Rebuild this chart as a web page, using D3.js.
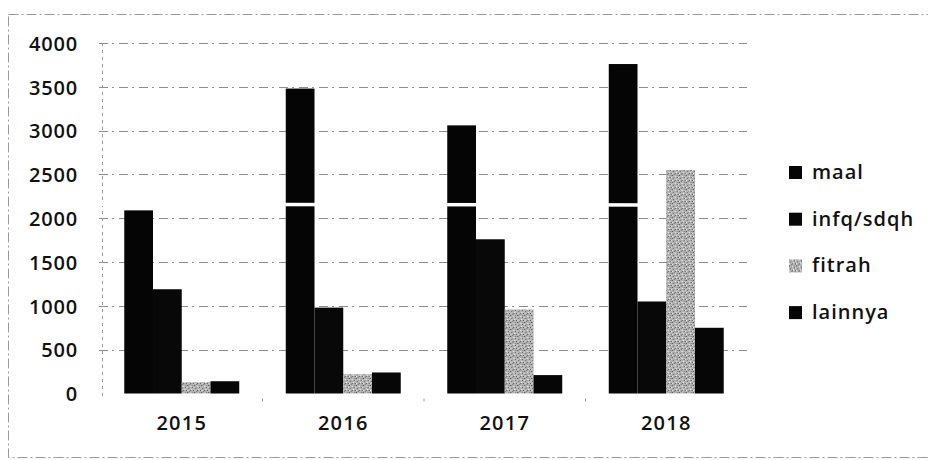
<!DOCTYPE html>
<html>
<head>
<meta charset="utf-8">
<script src="https://cdn.jsdelivr.net/npm/d3@7/dist/d3.min.js"></script>
<style>
  html, body { margin: 0; padding: 0; background: #fff; }
  svg { display: block; }
  text { font-family: "Open Sans", "DejaVu Sans", sans-serif; fill: #111; }
</style>
</head>
<body>
<svg id="chart" width="928" height="460"></svg>
<script>
// Yearly collection totals per category
const years = ["2015", "2016", "2017", "2018"];
const seriesNames = ["maal", "infq/sdqh", "fitrah", "lainnya"];
const maal    = [2090, 3480, 3060, 3760];
const infq    = [1190,  980, 1760, 1050];
const fitrah  = [ 130,  220,  960, 2550];
const lainnya = [ 140,  240,  210,  750];
const yTicks  = [0, 500, 1000, 1500, 2000, 2500, 3000, 3500, 4000];

const seriesValues = [maal, infq, fitrah, lainnya];
const rows = years.map((yr, i) => ({
  year: yr,
  values: seriesNames.map((s, j) => ({ key: s, value: seriesValues[j][i] }))
}));

const svg = d3.select("#chart");
const plot = { left: 101, right: 747, top: 43, bottom: 393.5 };

// Speckled grey texture for the fitrah series
const defs = svg.append("defs");
const pat = defs.append("pattern")
  .attr("id", "speckle").attr("patternUnits", "userSpaceOnUse")
  .attr("width", 7).attr("height", 7);
pat.append("rect").attr("width", 7).attr("height", 7).attr("fill", "#b4b4b4");
const specks = [[0,0,"#444"],[3,1,"#eee"],[5,2,"#555"],[1,3,"#666"],[4,4,"#f2f2f2"],[6,5,"#444"],[2,6,"#777"],[0,5,"#f4f4f4"],[5,0,"#888"],[3,5,"#5a5a5a"],[6,2,"#e6e6e6"],[2,2,"#999"]];
specks.forEach(([x, y, c]) => pat.append("rect").attr("x", x).attr("y", y).attr("width", 1).attr("height", 1).attr("fill", c));

const colors = { "maal": "#050505", "infq/sdqh": "#080808", "fitrah": "url(#speckle)", "lainnya": "#060606" };

// Outer chart frame
svg.append("rect")
  .attr("x", 8.5).attr("y", 14.5).attr("width", 940).attr("height", 443)
  .attr("fill", "none").attr("stroke", "#999").attr("stroke-width", 1)
  .attr("stroke-dasharray", "10,3,2,3");

const x0 = d3.scaleBand().domain(years).range([plot.left, plot.right])
  .paddingInner(0.288).paddingOuter(0.144);
const x1 = d3.scaleBand().domain(seriesNames).range([0, x0.bandwidth()]);
const y = d3.scaleLinear().domain([0, 4000]).range([plot.bottom, plot.top]);

// Horizontal gridlines
svg.append("g").selectAll("line").data(yTicks.filter(t => t > 0)).join("line")
  .attr("x1", plot.left - 2).attr("x2", plot.right)
  .attr("y1", d => Math.round(y(d)) + 0.5).attr("y2", d => Math.round(y(d)) + 0.5)
  .attr("stroke", "#8c8c8c").attr("stroke-width", 1).attr("stroke-dasharray", "9,4,2,5");

// Vertical axis line
svg.append("line")
  .attr("x1", plot.left + 1.5).attr("x2", plot.left + 1.5)
  .attr("y1", plot.top).attr("y2", plot.bottom + 6)
  .attr("stroke", "#999").attr("stroke-dasharray", "3,4");

// Y axis labels
const yAxis = d3.axisLeft(y).tickValues(yTicks).tickFormat(d3.format("d")).tickSize(0).tickPadding(0);
const gy = svg.append("g").attr("transform", `translate(${plot.left - 23},0)`).call(yAxis);
gy.select(".domain").remove();
gy.selectAll("text").style("font-size", "20px").style("font-weight", 600)
  .style("letter-spacing", "0.8px").attr("fill", "#111").attr("dy", "0.36em");

// Bars
const groups = svg.append("g").selectAll("g").data(rows).join("g")
  .attr("transform", d => `translate(${x0(d.year)},0)`);
groups.selectAll("rect").data(d => d.values).join("rect")
  .attr("x", d => x1(d.key))
  .attr("width", x1.bandwidth())
  .attr("y", d => y(d.value))
  .attr("height", d => y(0) - y(d.value))
  .attr("fill", d => colors[d.key]);

// Light crease across the taller solid bars
svg.append("line")
  .attr("x1", plot.left).attr("x2", x0("2018") + x1("fitrah"))
  .attr("y1", y(2160)).attr("y2", y(2150))
  .attr("stroke", "#fff").attr("stroke-width", 3.5);

// X axis labels
const xAxis = d3.axisBottom(x0).tickSize(0).tickPadding(0);
const gx = svg.append("g").attr("transform", `translate(0,${plot.bottom + 21})`).call(xAxis);
gx.select(".domain").remove();
gx.selectAll("text").style("font-size", "20px").style("font-weight", 600)
  .style("letter-spacing", "1.2px").attr("fill", "#111").attr("dy", "0.75em");

// Small marks between categories along the base
svg.append("g").selectAll("line").data(years.slice(1)).join("line")
  .attr("x1", d => x0(d) - x0.step() * x0.paddingInner() / 2)
  .attr("x2", d => x0(d) - x0.step() * x0.paddingInner() / 2)
  .attr("y1", plot.bottom + 5).attr("y2", plot.bottom + 8)
  .attr("stroke", "#999");

// Legend
const legend = svg.append("g").attr("transform", "translate(789,172)");
const li = legend.selectAll("g").data(seriesNames).join("g")
  .attr("transform", (d, i) => `translate(0,${i * 46.7})`);
li.append("rect").attr("x", 0).attr("y", -6).attr("width", 13).attr("height", 13)
  .attr("fill", d => colors[d]);
li.append("text").attr("x", 23).attr("dy", "0.35em")
  .style("font-size", "20px").style("font-weight", 600).style("letter-spacing", "1px")
  .text(d => d);
</script>
</body>
</html>
